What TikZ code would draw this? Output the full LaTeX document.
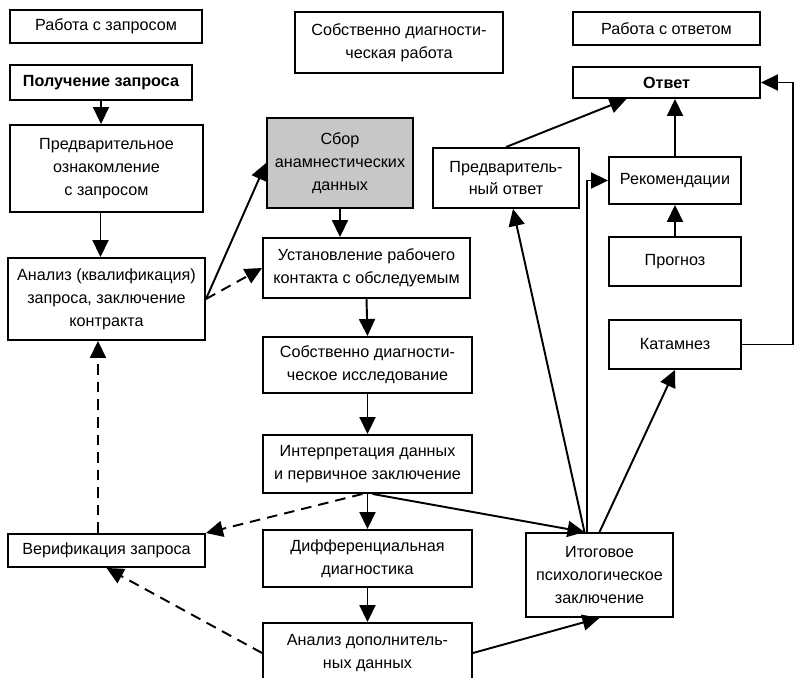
\documentclass[tikz,border=0pt]{standalone}
\usepackage{fontspec}
\setmainfont{Liberation Sans}
\usetikzlibrary{arrows.meta}

\begin{document}
\begin{tikzpicture}[
  font=\fontsize{9.2}{13}\selectfont,
  stage/.style={draw, line width=1.1pt, align=center, inner sep=2pt},
  column/.style={stage, minimum height=0.66cm},
  anamnesis/.style={stage, fill=black!22},
  flow/.style={-{Triangle[length=3.4mm, width=3.2mm]}, line width=1.1pt},
  recheck/.style={-{Triangle[length=3.4mm, width=3.2mm]}, line width=1.1pt,
    dash pattern=on 6pt off 4pt}
]
\useasboundingbox (0,0) rectangle (15.88,-13.54);

\node[column, minimum width=3.84cm] (colrequest) at (2.12,-0.53) {Работа с запросом};
\node[stage, minimum width=4.16cm, minimum height=1.22cm] (coldiag) at (7.98,-0.85) {Собственно диагности-\\ческая работа};
\node[column, minimum width=3.74cm] (colanswer) at (13.33,-0.57) {Работа с ответом};

\node[stage, font=\fontsize{9.2}{13}\selectfont\bfseries, minimum width=3.64cm, minimum height=0.70cm] (receive) at (2.02,-1.65) {Получение запроса};
\node[stage, minimum width=3.86cm, minimum height=1.74cm] (preview) at (2.13,-3.37) {Предварительное\\ознакомление\\с запросом};
\node[stage, minimum width=3.94cm, minimum height=1.64cm] (analysis) at (2.13,-5.98) {Анализ (квалификация)\\запроса, заключение\\контракта};
\node[stage, minimum width=3.94cm, minimum height=0.66cm] (verify) at (2.13,-11.01) {Верификация запроса};

\node[anamnesis, minimum width=2.92cm, minimum height=1.80cm] (history) at (6.80,-3.26) {Сбор\\анамнестических\\данных};
\node[stage, minimum width=4.14cm, minimum height=1.20cm] (contact) at (7.33,-5.36) {Установление рабочего\\контакта с обследуемым};
\node[stage, minimum width=4.18cm, minimum height=1.12cm] (study) at (7.35,-7.30) {Собственно диагности-\\ческое исследование};
\node[stage, minimum width=4.18cm, minimum height=1.16cm] (interp) at (7.35,-9.28) {Интерпретация данных\\и первичное заключение};
\node[stage, minimum width=4.18cm, minimum height=1.14cm] (differ) at (7.35,-11.17) {Дифференциальная\\диагностика};
\node[stage, minimum width=4.18cm, minimum height=1.20cm] (extra) at (7.35,-13.06) {Анализ дополнитель-\\ных данных};

\node[stage, minimum width=2.92cm, minimum height=1.20cm] (prelim) at (10.12,-3.56) {Предваритель-\\ный ответ};
\node[stage, font=\fontsize{9.2}{13}\selectfont\bfseries, minimum width=3.74cm, minimum height=0.62cm] (answer) at (13.33,-1.65) {Ответ};
\node[stage, minimum width=2.64cm, minimum height=0.94cm] (advice) at (13.50,-3.61) {Рекомендации};
\node[stage, minimum width=2.64cm, minimum height=0.98cm] (forecast) at (13.50,-5.23) {Прогноз};
\node[stage, minimum width=2.64cm, minimum height=0.98cm] (followup) at (13.50,-6.89) {Катамнез};
\node[stage, minimum width=2.94cm, minimum height=1.68cm] (final) at (11.99,-11.50) {Итоговое\\психологическое\\заключение};

\draw[flow] (receive.south) -- (receive.south |- preview.north);
\draw[flow] ([xshift=-0.12cm]preview.south) -- ([xshift=-0.12cm]analysis.north);
\draw[flow] (analysis.east) -- (history.west);
\draw[recheck] (analysis.east) -- (contact.west);
\draw[flow] (history.south) -- (history.south |- contact.north);
\draw[flow] (contact.south) -- (study.north);
\draw[flow] (study.south) -- (interp.north);
\draw[flow] (interp.south) -- (differ.north);
\draw[flow] (differ.south) -- (extra.north);
\draw[recheck] ([xshift=-0.1cm]interp.south) -- (verify.north east);
\draw[recheck] (extra.west) -- (verify.south);
\draw[recheck] ([xshift=-0.17cm]verify.north) -- ([xshift=-0.17cm]analysis.south);
\draw[flow] ([xshift=0.1cm]interp.south) -- ([xshift=-0.3cm]final.north);
\draw[flow] (extra.east) -- (final.south);
\draw[flow] ([xshift=-0.3cm]final.north) -- ([xshift=0.14cm]prelim.south);
\draw[flow] ([xshift=-0.25cm]final.north) |- (advice.west);
\draw[flow] (final.north) -- (followup.south);
\draw[flow] (prelim.north) -- ([xshift=-0.8cm]answer.south);
\draw[flow] (advice.north) -- (advice.north |- answer.south);
\draw[flow] (forecast.north) -- (advice.south);
\draw[flow] (followup.east) -- ++(1.02,0) |- (answer.east);

\end{tikzpicture}
\end{document}
